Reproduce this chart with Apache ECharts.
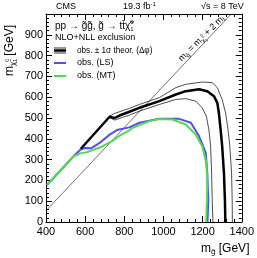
<!DOCTYPE html>
<html>
<head>
<meta charset="utf-8">
<script src="https://cdn.jsdelivr.net/npm/echarts@6/dist/echarts.min.js"></script>
<style>html,body{margin:0;padding:0;background:#fff}#c{width:257px;height:258px}</style>
</head>
<body>
<div id="c"></div>
<script>
// ---- data (GeV) ----
var xTicks = [400, 600, 800, 1000, 1200, 1400];
var yTicks = [0, 100, 200, 300, 400, 500, 600, 700, 800, 900];
var diagLine = [[400, 54], [1346, 1000]];
var obsCentral = [[578,352],[725,506],[750,500],[776,512],[826,530],[877,549],[979,581],[1063,613],[1114,629],[1182,638],[1224,629],[1258,605],[1275,573],[1283,525],[1292,444],[1300,364],[1309,235],[1314,106],[1316,0]];
var obsUpper = [[722,508],[750,522],[826,546],[877,565],[979,598],[1063,646],[1114,662],[1198,673],[1249,670],[1275,646],[1300,589],[1317,525],[1330,444],[1339,364],[1348,235],[1351,106],[1352,0]];
var obsLower = [[722,504],[750,490],[826,514],[877,533],[979,565],[1063,589],[1114,593],[1165,581],[1198,549],[1219,509],[1232,444],[1241,364],[1246,235],[1249,106],[1253,0]];
var obsLS = [[405,178],[540,315],[578,350],[600,356],[632,355],[674,380],[725,420],[767,444],[826,455],[877,477],[979,496],[1080,496],[1140,477],[1182,412],[1216,332],[1224,235],[1229,106],[1225,0]];
var obsMT = [[405,178],[540,315],[575,330],[610,336],[675,358],[740,390],[776,415],[826,440],[843,453],[928,485],[979,495],[1046,493],[1114,469],[1165,420],[1198,364],[1219,284],[1224,203],[1222,106],[1218,0]];

var FONT = 'Liberation Sans, Arial, Helvetica, sans-serif';
var chart = echarts.init(document.getElementById('c'), null, {renderer: 'canvas'});

var cv = document.createElement('canvas').getContext('2d');
function tw(t, s) { cv.font = s + 'px ' + FONT; return cv.measureText(t).width; }
function seq(pieces, x, y, rot) {
  var children = [], cx = 0;
  pieces.forEach(function (p) {
    children.push({type: 'text', x: cx, y: p.dy || 0,
      style: {text: p.t, fontSize: p.s, fontFamily: FONT, fill: '#000', textVerticalAlign: 'middle', textAlign: 'left'}});
    cx += (p.adv !== undefined) ? p.adv : tw(p.t, p.s);
  });
  return {type: 'group', x: x, y: y, rotation: rot || 0, children: children, silent: true};
}

function axisCommon() {
  return {
    axisLine: {show: true, onZero: false, lineStyle: {color: '#000', width: 1}},
    axisTick: {show: true, inside: true, length: 6, lineStyle: {color: '#000', width: 1}},
    minorTick: {show: true, splitNumber: 5, length: 3, lineStyle: {color: '#000', width: 1}},
    splitLine: {show: false},
    minorSplitLine: {show: false}
  };
}

var xb = Object.assign(axisCommon(), {type: 'value', position: 'bottom', min: 400, max: 1400, interval: 200,
  axisLabel: {show: true, fontSize: 11, fontFamily: FONT, color: '#000', margin: 4,
    formatter: function (v) { return xTicks.indexOf(v) >= 0 ? String(v) : ''; }}});
var xt = Object.assign(axisCommon(), {type: 'value', position: 'top', min: 400, max: 1400, interval: 200,
  axisLabel: {show: false}});
var yl = Object.assign(axisCommon(), {type: 'value', position: 'left', min: 0, max: 1000, interval: 100,
  axisLabel: {show: true, fontSize: 11, fontFamily: FONT, color: '#000', margin: 3,
    formatter: function (v) { return yTicks.indexOf(v) >= 0 ? String(v) : ''; }}});
var yr = Object.assign(axisCommon(), {type: 'value', position: 'right', min: 0, max: 1000, interval: 100,
  axisLabel: {show: false}});

function line(data, color, width, z) {
  return {type: 'line', xAxisIndex: 0, yAxisIndex: 0, data: data, showSymbol: false, symbol: 'none',
    lineStyle: {color: color, width: width}, z: z, silent: true, animation: false, clip: true};
}

var BLUE = '#5252ea', GREEN = '#55d655';
var legX = 54;
var graphics = [
  {type: 'text', x: 56, y: 7, style: {text: 'CMS', fontSize: 9, fontFamily: FONT, fill: '#000', textVerticalAlign: 'middle'}},
  seq([{t: '19.3 fb', s: 9}, {t: '-1', s: 6, dy: -3}], 123, 7),
  seq([{t: '\u221As = 8 TeV', s: 9}], 201, 7),
  seq([{t: 'pp \u2192 g\u0303g\u0303, g\u0303 \u2192 tt\u0304\u03C7\u0303', s: 10}, {t: '0', s: 6, dy: -4, adv: 0}, {t: '1', s: 6, dy: 3}], 55, 26),
  seq([{t: 'NLO+NLL exclusion', s: 9}], 55, 38),
  seq([{t: 'obs. \u00B1 1\u03C3 theor. (\u0394\u03C6)', s: 8.2}], 77, 51),
  seq([{t: 'obs. (LS)', s: 9}], 77, 63),
  seq([{t: 'obs. (MT)', s: 9}], 77, 76),
  {type: 'line', shape: {x1: legX, y1: 48, x2: legX + 12, y2: 48}, style: {stroke: '#000', lineWidth: 0.8}},
  {type: 'line', shape: {x1: legX, y1: 50.5, x2: legX + 12, y2: 50.5}, style: {stroke: '#000', lineWidth: 2.5}},
  {type: 'line', shape: {x1: legX, y1: 53, x2: legX + 12, y2: 53}, style: {stroke: '#000', lineWidth: 0.8}},
  {type: 'line', shape: {x1: legX, y1: 63, x2: legX + 12, y2: 63}, style: {stroke: BLUE, lineWidth: 2}},
  {type: 'line', shape: {x1: legX, y1: 76, x2: legX + 12, y2: 76}, style: {stroke: GREEN, lineWidth: 2}},
  seq([{t: 'm', s: 12}, {t: 'g\u0303', s: 8, dy: 3}, {t: ' [GeV]', s: 12}], 201, 249),
  seq([{t: 'm', s: 12}, {t: '\u03C7\u0303', s: 8, dy: 3}, {t: '0', s: 5, dy: -2, adv: 0}, {t: '1', s: 5, dy: 6}, {t: ' [GeV]', s: 12}], 10, 76, Math.PI / 2),
  seq([{t: 'm', s: 9}, {t: 'g\u0303', s: 6, dy: 2.5}, {t: ' = m', s: 9}, {t: '\u03C7\u0303', s: 6, dy: 2.5}, {t: '0', s: 4, dy: -2, adv: 0}, {t: '1', s: 4, dy: 5}, {t: ' + 2 m', s: 9}, {t: 't', s: 6, dy: 2.5}], 180, 60, Math.PI / 4)
];

chart.setOption({
  animation: false,
  backgroundColor: '#fff',
  grid: {left: 46, right: 14, top: 14, bottom: 36, containLabel: false},
  xAxis: [xb, xt],
  yAxis: [yl, yr],
  series: [
    line(diagLine, '#333', 0.7, 1),
    line(obsLS, BLUE, 2, 2),
    line(obsMT, GREEN, 2, 3),
    line(obsUpper, '#000', 0.7, 4),
    line(obsLower, '#000', 0.7, 4),
    line(obsCentral, '#000', 2.5, 5)
  ],
  graphic: graphics
});
</script>
</body>
</html>
